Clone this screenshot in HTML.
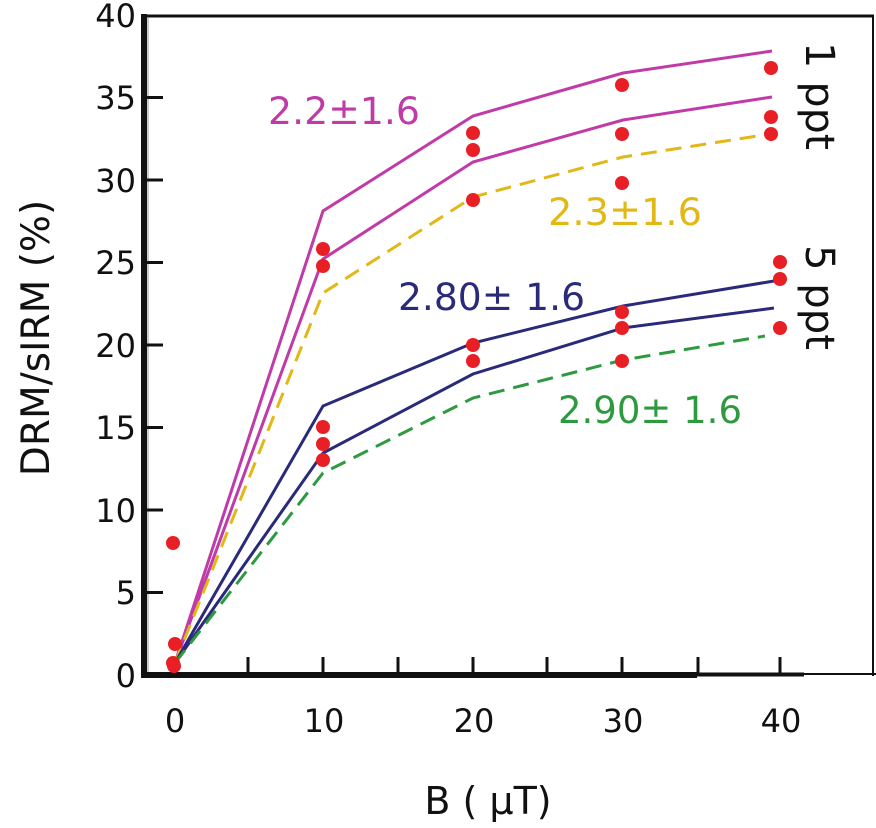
<!DOCTYPE html>
<html><head><meta charset="utf-8"><style>
html,body{margin:0;padding:0;background:#fff;}
svg{display:block;}
text{font-family:"DejaVu Sans","Liberation Sans",sans-serif;}
</style></head><body>
<svg width="876" height="828" viewBox="0 0 876 828" xmlns="http://www.w3.org/2000/svg">
<line x1="141" y1="16" x2="874" y2="16" stroke="#111" stroke-width="3"/>
<line x1="873" y1="16" x2="873" y2="676" stroke="#111" stroke-width="2"/>
<line x1="144" y1="14" x2="144" y2="678" stroke="#111" stroke-width="6"/>
<line x1="148" y1="18" x2="148" y2="676" stroke="#999" stroke-width="1"/>
<line x1="141" y1="675" x2="697" y2="675" stroke="#111" stroke-width="6"/>
<line x1="697" y1="674.5" x2="804" y2="674.5" stroke="#111" stroke-width="4"/>
<line x1="804" y1="674" x2="876" y2="674" stroke="#111" stroke-width="2"/>
<g stroke="#111" stroke-width="3">
<line x1="144" y1="592.5" x2="163" y2="592.5"/>
<line x1="144" y1="510" x2="163" y2="510"/>
<line x1="144" y1="427.5" x2="163" y2="427.5"/>
<line x1="144" y1="345" x2="163" y2="345"/>
<line x1="144" y1="262.5" x2="163" y2="262.5"/>
<line x1="144" y1="180" x2="163" y2="180"/>
<line x1="144" y1="97.5" x2="163" y2="97.5"/>
</g>
<g stroke="#111" stroke-width="3">
<line x1="248" y1="675" x2="248" y2="657"/>
<line x1="323" y1="675" x2="323" y2="657"/>
<line x1="398" y1="675" x2="398" y2="657"/>
<line x1="473" y1="675" x2="473" y2="657"/>
<line x1="547" y1="675" x2="547" y2="657"/>
<line x1="622" y1="675" x2="622" y2="657"/>
<line x1="698" y1="675" x2="698" y2="657"/>
<line x1="780" y1="675" x2="780" y2="657"/>
</g>
<g font-size="32" fill="#111" text-anchor="end">
<text x="136" y="687">0</text>
<text x="136" y="604">5</text>
<text x="136" y="522">10</text>
<text x="136" y="439">15</text>
<text x="136" y="357">20</text>
<text x="136" y="274">25</text>
<text x="136" y="192">30</text>
<text x="136" y="109">35</text>
<text x="136" y="27">40</text>
</g>
<g font-size="32" fill="#111" text-anchor="middle">
<text x="175" y="732">0</text>
<text x="324" y="732">10</text>
<text x="474" y="732">20</text>
<text x="623" y="732">30</text>
<text x="781" y="732">40</text>
</g>
<text x="488" y="814" font-size="38" fill="#111" text-anchor="middle">B ( μT)</text>
<text transform="translate(49,338) rotate(-90)" font-size="39" fill="#111" text-anchor="middle">DRM/sIRM (%)</text>
<g fill="none" stroke-width="3">
<polyline stroke="#c03aa8" points="175,663 323,211 473,116 623,73 772,51"/>
<polyline stroke="#c03aa8" points="175,663 323,259 473,162 623,120 772,97"/>
<polyline stroke="#e2b816" stroke-dasharray="16,9" points="175,663 323,293 473,197 623,157 770,134"/>
<polyline stroke="#2a2a7a" points="175,663 323,406 473,343 623,306 774,281"/>
<polyline stroke="#2a2a7a" points="175,663 323,453 473,374 623,328 774,308"/>
<polyline stroke="#2e9a40" stroke-dasharray="16,9" points="175,663 323,473 473,398 623,360 765,336"/>
</g>
<g fill="#e82025">
<circle cx="173" cy="543" r="7"/><circle cx="175" cy="644" r="7"/><circle cx="173" cy="663" r="7"/><circle cx="174" cy="666" r="7"/>
<circle cx="323" cy="249" r="7"/><circle cx="323" cy="266" r="7"/><circle cx="323" cy="427" r="7"/><circle cx="323" cy="444" r="7"/><circle cx="323" cy="460" r="7"/>
<circle cx="473" cy="133" r="7"/><circle cx="473" cy="150" r="7"/><circle cx="473" cy="200" r="7"/><circle cx="473" cy="345" r="7"/><circle cx="473" cy="361" r="7"/>
<circle cx="622" cy="85" r="7"/><circle cx="622" cy="134" r="7"/><circle cx="622" cy="183" r="7"/><circle cx="622" cy="312" r="7"/><circle cx="622" cy="328" r="7"/><circle cx="622" cy="361" r="7"/>
<circle cx="771" cy="68" r="7"/><circle cx="771" cy="117" r="7"/><circle cx="771" cy="134" r="7"/>
<circle cx="780" cy="262" r="7"/><circle cx="780" cy="279" r="7"/><circle cx="780" cy="328" r="7"/>
</g>
<text x="268" y="124" font-size="37" fill="#c03aa8" textLength="152" lengthAdjust="spacingAndGlyphs">2.2±1.6</text>
<text x="548" y="225" font-size="37" fill="#e2b816" textLength="154" lengthAdjust="spacingAndGlyphs">2.3±1.6</text>
<text x="398" y="310" font-size="37" fill="#2a2a7a" textLength="187" lengthAdjust="spacingAndGlyphs">2.80± 1.6</text>
<text x="558" y="423" font-size="37" fill="#2e9a40" textLength="184" lengthAdjust="spacingAndGlyphs">2.90± 1.6</text>
<text transform="translate(806,42) rotate(90)" font-size="40" fill="#111" textLength="108" lengthAdjust="spacingAndGlyphs">1 ppt</text>
<text transform="translate(806,245) rotate(90)" font-size="40" fill="#111" textLength="105" lengthAdjust="spacingAndGlyphs">5 ppt</text>
</svg>
</body></html>
